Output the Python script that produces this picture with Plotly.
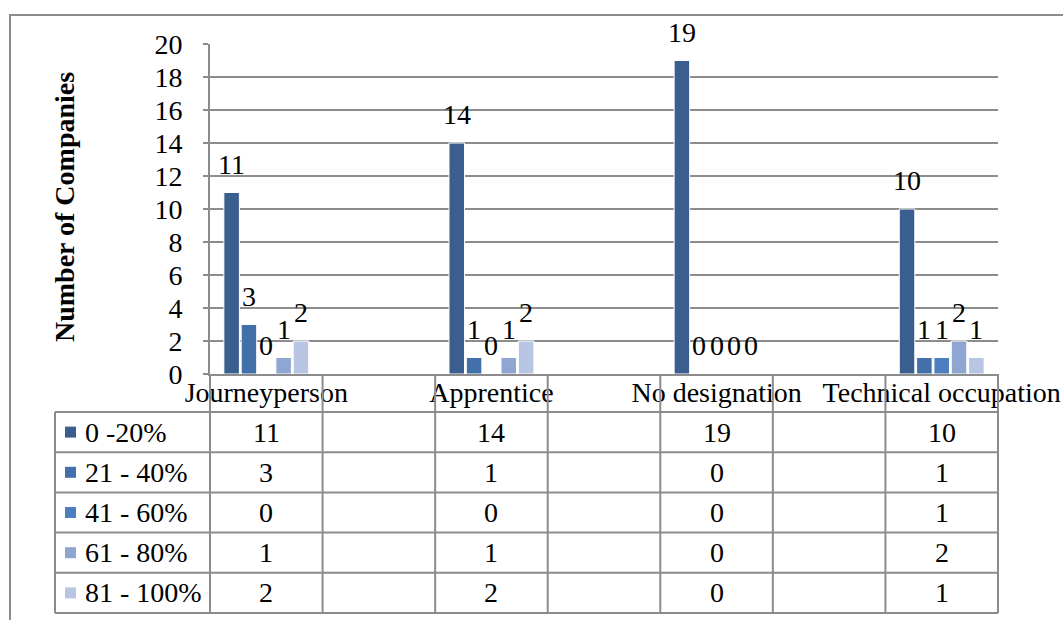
import plotly.graph_objects as go

# ---- data -------------------------------------------------------------
categories = ["Journeyperson", "Apprentice", "No designation", "Technical occupation"]
series_names = ["0 -20%", "21 - 40%", "41 - 60%", "61 - 80%", "81 - 100%"]
vals_0_20 = [11, 14, 19, 10]
vals_21_40 = [3, 1, 0, 1]
vals_41_60 = [0, 0, 0, 1]
vals_61_80 = [1, 1, 0, 2]
vals_81_100 = [2, 2, 0, 1]
series_values = [vals_0_20, vals_21_40, vals_41_60, vals_61_80, vals_81_100]
y_ticks = list(range(0, 21, 2))

# ---- style ------------------------------------------------------------
colors = ["#3A5E8D", "#4370AA", "#4C7EC0", "#8FA6D3", "#B8C6E3"]
grid_col = "#8C8C8C"
FONT = "Liberation Serif"
FS = 28

W, H = 1063, 620
L, R, T, B = 210, 998, 44, 374          # plot area in pixels
n_cols = 2 * len(categories) - 1        # each category followed by an empty table column
cat_pos = [2 * i for i in range(len(categories))]
x_min, x_max = -0.5, n_cols - 0.5

pitch = 0.154                            # bar spacing inside a group (x units)
bar_w = 0.138


def px_x(px):
    return (px - L) / (R - L)


def px_y(py):
    return (B - py) / (B - T)


def dx(xv):
    return (xv - x_min) / (x_max - x_min)


fig = go.Figure()
n_ser = len(series_names)
annotations = []
for i, (name, vals, col) in enumerate(zip(series_names, series_values, colors)):
    shift = (i - (n_ser - 1) / 2) * pitch
    fig.add_bar(
        x=cat_pos, y=vals, name=name, width=bar_w, offset=shift - bar_w / 2,
        marker=dict(color=col, line=dict(color="white", width=1)),
        showlegend=False, hoverinfo="skip",
    )
    for xp, v in zip(cat_pos, vals):
        annotations.append(dict(
            x=xp + shift, y=v, xref="x", yref="y", text=str(v), showarrow=False,
            xanchor="center", yanchor="bottom", yshift=11,
            font=dict(family=FONT, size=FS, color="black"),
        ))

# ---- data table under the axis ----------------------------------------
row_edges = [412, 452.2, 492.4, 532.6, 572.8, 613]
tbl_left = 55
line_style = dict(color=grid_col, width=2)
shapes = []
for py in row_edges:
    shapes.append(dict(type="line", xref="paper", yref="paper",
                       x0=px_x(tbl_left), x1=1, y0=px_y(py), y1=px_y(py), line=line_style))
shapes.append(dict(type="line", xref="paper", yref="paper",
                   x0=px_x(tbl_left), x1=px_x(tbl_left), y0=px_y(row_edges[0]),
                   y1=px_y(row_edges[-1]), line=line_style))
for k in range(n_cols + 1):
    xp = dx(k - 0.5)
    shapes.append(dict(type="line", xref="paper", yref="paper",
                       x0=xp, x1=xp, y0=px_y(B), y1=px_y(row_edges[-1]), line=line_style))

for r, (name, vals, col) in enumerate(zip(series_names, series_values, colors)):
    yc = (row_edges[r] + row_edges[r + 1]) / 2
    shapes.append(dict(type="rect", xref="paper", yref="paper",
                       x0=px_x(65), x1=px_x(76), y0=px_y(yc - 5.5), y1=px_y(yc + 5.5),
                       fillcolor=col, line=dict(width=0)))
    annotations.append(dict(x=px_x(83), y=px_y(yc), xref="paper", yref="paper",
                            text=name, showarrow=False, xanchor="left", yanchor="middle",
                            font=dict(family=FONT, size=FS, color="black")))
    for xp, v in zip(cat_pos, vals):
        annotations.append(dict(x=xp, y=px_y(yc), xref="x", yref="paper",
                                text=str(v), showarrow=False, xanchor="center",
                                yanchor="middle",
                                font=dict(family=FONT, size=FS, color="black")))

# outer chart border
shapes.append(dict(type="rect", xref="paper", yref="paper",
                   x0=px_x(10), x1=px_x(W + 20), y0=px_y(15), y1=px_y(H + 20),
                   line=dict(color=grid_col, width=2), fillcolor="rgba(0,0,0,0)"))

# y-axis title
annotations.append(dict(x=px_x(64), y=px_y(207), xref="paper", yref="paper",
                        text="<b>Number of Companies</b>", textangle=-90, showarrow=False,
                        xanchor="center", yanchor="middle",
                        font=dict(family=FONT, size=28, color="black")))

fig.update_layout(
    width=W, height=H,
    margin=dict(l=L, r=W - R, t=T, b=H - B, pad=0, autoexpand=False),
    paper_bgcolor="white", plot_bgcolor="white",
    barmode="overlay",
    font=dict(family=FONT, size=FS, color="black"),
    shapes=shapes, annotations=annotations,
    xaxis=dict(range=[x_min, x_max], tickvals=cat_pos, ticktext=categories,
               showgrid=False, zeroline=False, showline=True, linecolor=grid_col,
               linewidth=2, ticks="", ticklabelstandoff=-8, automargin=False,
               tickfont=dict(family=FONT, size=FS, color="black")),
    yaxis=dict(range=[0, 20], tickvals=y_ticks, showgrid=True, gridcolor=grid_col,
               gridwidth=1.5, zeroline=False, showline=True, linecolor=grid_col,
               linewidth=2, ticks="outside", ticklen=5, tickcolor=grid_col, tickwidth=1.5,
               ticklabelstandoff=15, automargin=False,
               tickfont=dict(family=FONT, size=FS, color="black")),
)

fig.write_html("out.html")
